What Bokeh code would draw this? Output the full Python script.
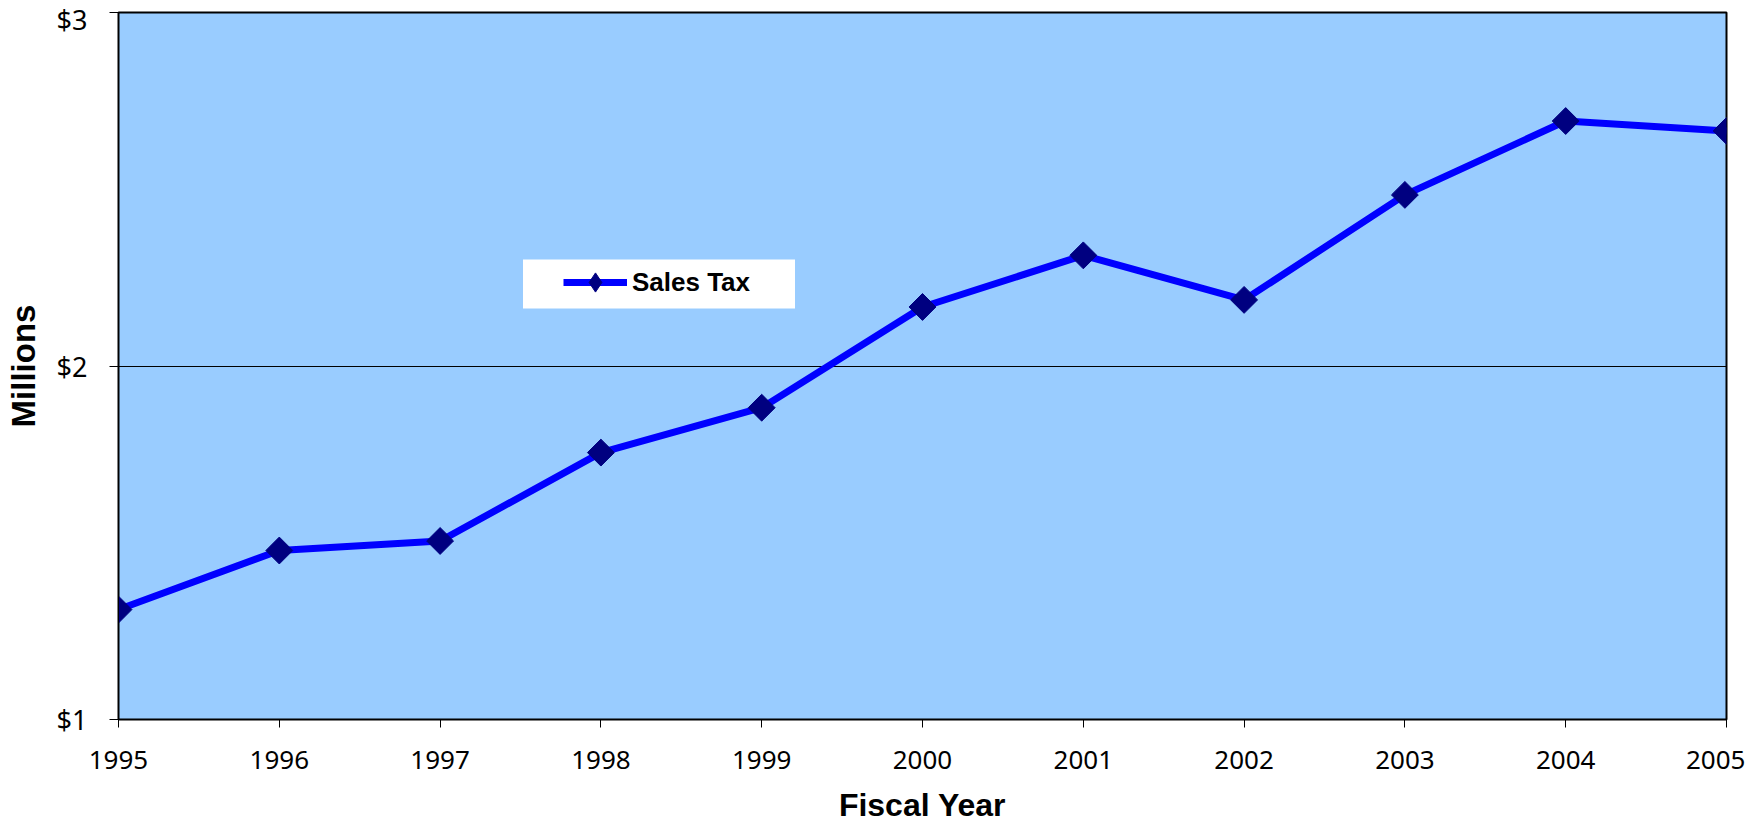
from bokeh.plotting import figure
from bokeh.models import (FixedTicker, PrintfTickFormatter, Legend, LegendItem,
                          BoxAnnotation, Range1d)
from bokeh.embed import file_html
from bokeh.resources import INLINE
import math

years = [1995, 1996, 1997, 1998, 1999, 2000, 2001, 2002, 2003, 2004, 2005]
sales_tax = [1.311, 1.478, 1.505, 1.755, 1.882, 2.167, 2.313, 2.187, 2.484, 2.693, 2.665]
y_ticks = [1, 2, 3]
series_name = "Sales Tax"
x_title = "Fiscal Year"
y_title = "Millions"

W, H = 1745, 825
p = figure(width=W, height=H, output_backend="svg", toolbar_location=None,
           x_range=Range1d(1995, 2005), y_range=Range1d(1, 3),
           min_border_left=118, min_border_right=19, min_border_top=12,
           min_border_bottom=105)
p.background_fill_color = "#99CCFF"
p.border_fill_color = "white"
p.outline_line_color = "black"
p.outline_line_width = 2

# grid
p.xgrid.visible = False
p.ygrid.ticker = FixedTicker(ticks=[2])
p.ygrid.grid_line_color = "black"
p.ygrid.grid_line_width = 1

tick_font = "Noto Sans"
# x axis
xa = p.xaxis[0]
xa.ticker = FixedTicker(ticks=years)
xa.major_label_text_font = tick_font
xa.major_label_text_font_size = "26px"
xa.major_label_text_line_height = 1.0
xa.major_label_text_color = "black"
xa.major_tick_in = 0
xa.major_tick_out = 8
xa.minor_tick_out = 0
xa.minor_tick_in = 0
xa.major_label_standoff = 23
xa.axis_line_color = "black"
xa.major_tick_line_color = "black"
xa.axis_label = x_title
xa.axis_label_text_font = "Liberation Sans"
xa.axis_label_text_font_style = "bold"
xa.axis_label_text_font_size = "32px"
xa.axis_label_text_line_height = 1.0
xa.axis_label_text_color = "black"
xa.axis_label_standoff = 15

ya = p.yaxis[0]
ya.ticker = FixedTicker(ticks=y_ticks)
ya.formatter = PrintfTickFormatter(format="$%d")
ya.major_label_text_font = tick_font
ya.major_label_text_font_size = "27px"
ya.major_label_text_color = "black"
ya.major_tick_in = 0
ya.major_tick_out = 9
ya.minor_tick_out = 0
ya.minor_tick_in = 0
ya.major_label_standoff = 22
ya.axis_line_color = "black"
ya.major_tick_line_color = "black"
ya.axis_label = y_title
ya.axis_label_text_font = "Liberation Sans"
ya.axis_label_text_font_style = "bold"
ya.axis_label_text_font_size = "33px"
ya.axis_label_text_line_height = 1.0
ya.axis_label_text_color = "black"
ya.axis_label_standoff = 12

# legend backdrop
bg = BoxAnnotation(left=404.5, right=676.5, bottom=411, top=460,
                   left_units="screen", right_units="screen",
                   bottom_units="screen", top_units="screen",
                   fill_color="white", fill_alpha=1.0, line_alpha=0,
                   level="underlay")
p.add_layout(bg)

ln = p.line(years, sales_tax, line_color="#0000FF", line_width=7)
sc = p.scatter(years, sales_tax, marker="square", angle=math.pi / 4, size=19,
               fill_color="#000080", line_color="#000080")
# legend sample marker (diamond), not drawn in the plot itself
leg_mk = p.scatter(x=[float("nan")], y=[float("nan")], marker="diamond", size=19,
                   fill_color="#000080", line_color="#000080")

legend = Legend(items=[LegendItem(label=series_name, renderers=[ln, leg_mk])],
                location=(445, 413), margin=0, padding=0,
                glyph_width=64, glyph_height=48, label_height=48,
                label_standoff=5, spacing=0,
                label_text_font="Liberation Sans", label_text_font_style="bold",
                label_text_font_size="26px", label_text_color="black",
                background_fill_alpha=0, border_line_alpha=0)
p.add_layout(legend)

open("out.html", "w").write(file_html(p, INLINE))
